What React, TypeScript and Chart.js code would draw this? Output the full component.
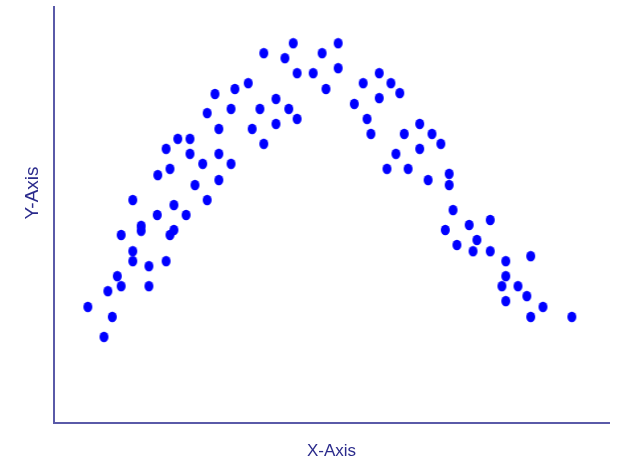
import React, { useEffect, useRef } from "react";
import { Chart, registerables } from "chart.js";

Chart.register(...registerables);

// Scatter samples (x, y on a 0–100 scale)
const xValues = [
  6.1, 9.0, 10.5, 9.7, 11.4, 12.1, 12.1, 14.2, 14.2, 14.2, 15.7, 15.7, 17.1, 17.1, 18.6,
  20.2, 20.9, 21.6, 21.6, 23.8, 25.4, 27.6, 18.7, 20.9, 20.2, 22.3, 24.5, 24.5, 26.8, 27.6,
  29.0, 29.7, 29.7, 29.7, 31.9, 31.9, 32.6, 35.0, 35.7, 37.1, 37.8, 40.0, 40.0, 42.3, 43.8,
  43.8, 37.8, 41.6, 43.1, 46.7, 48.3, 49.0, 51.2, 51.2, 54.1, 55.7, 56.4, 58.6, 60.7, 62.3,
  58.6, 57.1, 65.9, 63.1, 68.1, 69.7, 61.6, 65.9, 60.0, 63.8, 67.4, 71.2, 71.2, 71.9, 70.5,
  74.8, 78.6, 76.2, 72.6, 75.5, 78.6, 81.4, 85.9, 81.4, 80.7, 83.6, 85.2, 81.4, 88.1, 85.9,
  93.3,
];
const yValues = [
  27.9, 20.7, 25.5, 31.7, 35.3, 32.9, 45.2, 53.6, 41.3, 38.9, 47.4, 46.2, 37.7, 32.9, 50.0,
  38.9, 45.2, 46.4, 52.4, 50.0, 57.2, 53.6, 59.6, 61.1, 65.9, 68.3, 68.3, 64.7, 62.3, 74.5,
  79.1, 70.7, 64.7, 58.4, 75.5, 62.3, 80.3, 81.7, 70.7, 75.5, 67.1, 77.9, 71.9, 75.5, 73.1,
  84.1, 88.9, 87.7, 91.3, 84.1, 88.9, 80.3, 91.3, 85.3, 76.7, 81.7, 73.1, 84.1, 81.7, 79.3,
  78.1, 69.5, 71.9, 69.5, 69.5, 67.1, 64.7, 65.9, 61.1, 61.1, 58.4, 59.9, 57.2, 51.2, 46.4,
  47.6, 48.8, 44.0, 42.8, 41.3, 41.3, 38.9, 40.1, 35.3, 32.9, 32.9, 30.5, 29.3, 27.9, 25.5,
  25.5,
];

const xTitle = "X-Axis";
const yTitle = "Y-Axis";

const TITLE_COLOR = "#2b2b8c";
const AXIS_COLOR = "#5a5aa8";
const POINT_COLOR = "#0000ff";
const FONT_FAMILY = "'Liberation Sans', Arial, sans-serif";
const X_TITLE_FONT = { family: FONT_FAMILY, size: 17 };
const Y_TITLE_SIZE = 19;

// Slightly tall elliptical marker
function makeDot(): HTMLCanvasElement {
  const c = document.createElement("canvas");
  c.width = 11;
  c.height = 12;
  const g = c.getContext("2d")!;
  g.fillStyle = POINT_COLOR;
  g.beginPath();
  g.ellipse(5.5, 6, 4.5, 5.2, 0, 0, Math.PI * 2);
  g.fill();
  return c;
}

// Rotated y-axis caption, placed a little above the axis middle
const yTitlePlugin = {
  id: "yTitleCaption",
  afterDraw(chart: Chart) {
    const { ctx } = chart;
    ctx.save();
    ctx.translate(33, 193);
    ctx.rotate(-Math.PI / 2);
    ctx.fillStyle = TITLE_COLOR;
    ctx.font = `${Y_TITLE_SIZE}px ${FONT_FAMILY}`;
    ctx.textAlign = "center";
    ctx.textBaseline = "middle";
    ctx.fillText(yTitle, 0, 0);
    ctx.restore();
  },
};

export default function App() {
  const canvasRef = useRef<HTMLCanvasElement | null>(null);

  useEffect(() => {
    if (!canvasRef.current) return;
    const dot = makeDot();
    const points = xValues.map((x, i) => ({ x, y: yValues[i] }));
    const chart = new Chart(canvasRef.current, {
      type: "scatter",
      data: {
        datasets: [
          {
            data: points,
            pointStyle: dot,
            backgroundColor: POINT_COLOR,
            borderColor: POINT_COLOR,
          },
        ],
      },
      options: {
        animation: false,
        responsive: false,
        devicePixelRatio: 1,
        layout: { padding: { left: 0, top: 7, right: 9, bottom: 0 } },
        plugins: {
          legend: { display: false },
          tooltip: { enabled: false },
        },
        scales: {
          x: {
            type: "linear",
            min: 0,
            max: 100,
            grid: { display: false },
            border: { display: true, color: AXIS_COLOR, width: 2 },
            ticks: { display: false },
            title: {
              display: true,
              text: xTitle,
              color: TITLE_COLOR,
              font: X_TITLE_FONT,
              padding: 0,
            },
            afterFit(scale: any) {
              scale.height = 39;
            },
          },
          y: {
            type: "linear",
            min: 0,
            max: 100,
            grid: { display: false },
            border: { display: true, color: AXIS_COLOR, width: 2 },
            ticks: { display: false },
            afterFit(scale: any) {
              scale.width = 54;
            },
          },
        },
      },
      plugins: [yTitlePlugin],
    });
    return () => chart.destroy();
  }, []);

  return (
    <div style={{ position: "absolute", left: 0, top: 0, width: 618, height: 462, background: "#fff" }}>
      <canvas ref={canvasRef} width={618} height={462} />
    </div>
  );
}
